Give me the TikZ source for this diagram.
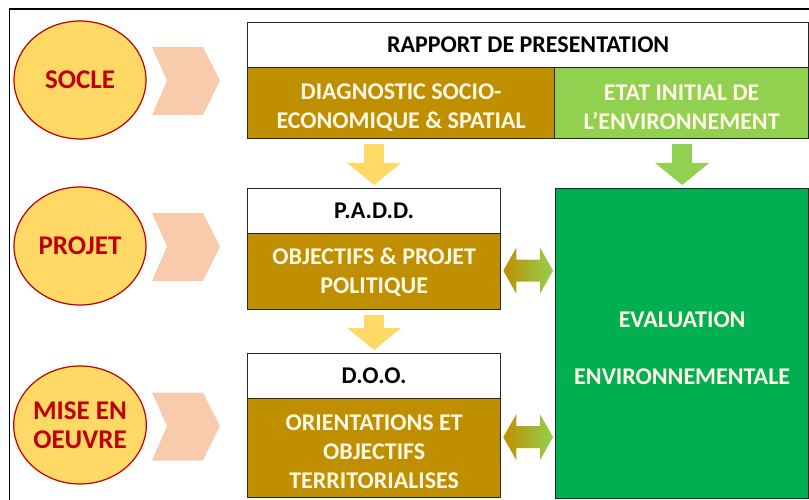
\documentclass[tikz,border=0pt]{standalone}
\usepackage{fontspec}
\setmainfont{Carlito}
\usetikzlibrary{shapes.geometric,arrows.meta,calc}
\definecolor{brn}{HTML}{BF8F00}
\definecolor{lgreen}{HTML}{92D050}
\definecolor{dgreen}{HTML}{00B050}
\definecolor{yel}{HTML}{FFD966}
\definecolor{chevc}{HTML}{F8CBAD}
\definecolor{redc}{HTML}{C00000}
\definecolor{cream}{HTML}{FFF8E6}
\definecolor{edge}{HTML}{262626}
\begin{document}
\begin{tikzpicture}[x=1pt,y=-1pt,
  boxbase/.style={draw=edge, line width=1.3pt, inner sep=0pt, anchor=north west, align=center},
  titlebox/.style={boxbase, fill=white, text=black, font=\bfseries\fontsize{24}{29}\selectfont},
  brownbox/.style={boxbase, fill=brn},
  lgbox/.style={boxbase, fill=lgreen},
  evalbox/.style={boxbase, fill=dgreen},
  boxtext/.style={text=cream, align=center, inner sep=0pt, font=\bfseries\fontsize{24}{29}\selectfont},
  phase/.style={ellipse, draw=redc, line width=1.2pt, fill=yel, text=redc, minimum width=132pt, minimum height=118pt, inner sep=0pt, align=center, font=\bfseries\fontsize{27}{29}\selectfont},
  yarr/.style={draw=yel, line width=20pt, shorten <=5pt, shorten >=3pt, -{Triangle[width=54pt,length=22pt,line width=0pt]}},
  garr/.style={yarr, draw=lgreen},
  chevron/.pic={\fill[chevc] (0,-33.5) -- (51,-33.5) -- (68,0) -- (51,34.5) -- (0,34.5) -- (15,0) -- cycle;}
]
\useasboundingbox (0,0) rectangle (809,500);
\fill[white] (0,0) rectangle (809,500);
% outer frame
\draw[line width=1.5pt, black] (9.5,500) -- (9.5,9) -- (809,9);

% phase circles
\node[phase] (socle) at (80,80) {SOCLE};
\node[phase] (projet) at (80,246) {PROJET};
\node[phase] (mise) at (80,425) {MISE EN\\OEUVRE};

% chevrons
\pic at (152,80.5) {chevron};
\pic at (152,246.5) {chevron};
\pic at (152,426) {chevron};

% boxes
\node[titlebox, minimum width=561pt, minimum height=45pt] (rapport) at (247,22) {RAPPORT DE PRESENTATION};
\node[brownbox, minimum width=307pt, minimum height=71pt] (diag) at (247,67) {};
\node[boxtext] (diagt) at ([yshift=-4pt]diag.center) {DIAGNOSTIC SOCIO-\\ECONOMIQUE \& SPATIAL};
\node[lgbox, minimum width=254pt, minimum height=71pt] (etat) at (554,67) {};
\node[boxtext] (etatt) at ([yshift=-4pt]etat.center) {ETAT INITIAL DE\\L’ENVIRONNEMENT};

\node[titlebox, minimum width=253pt, minimum height=45pt] (padd) at (247,188) {P.A.D.D.};
\node[brownbox, minimum width=253pt, minimum height=76pt] (obj) at (247,233) {};
\node[boxtext] (objt) at ([yshift=-1pt]obj.center) {OBJECTIFS \& PROJET\\POLITIQUE};

\node[titlebox, minimum width=253pt, minimum height=45pt] (doo) at (247,353) {D.O.O.};
\node[brownbox, minimum width=253pt, minimum height=99pt] (orient) at (247,398) {};
\node[boxtext] (orientt) at ([yshift=-4pt]orient.center) {ORIENTATIONS ET\\OBJECTIFS\\TERRITORIALISES};

\node[evalbox, minimum width=253pt, minimum height=310pt] (eval) at (555,188) {};
\node[boxtext] (evalt) at ([yshift=-5pt]eval.center) {EVALUATION\\[28pt]ENVIRONNEMENTALE};

% down arrows
\draw[yarr] (diag.south -| padd.north) -- (padd.north);
\draw[yarr] (obj.south) -- (doo.north);
\draw[garr] (etat.south -| eval.north) -- (eval.north);

% double arrows
\coordinate (L1) at ($(obj.east)+(2,-1)$);
\coordinate (R1) at ($(eval.west |- obj.east)+(-2,-1)$);
\coordinate (L2) at ($(orient.east)+(2,-11)$);
\coordinate (R2) at ($(eval.west |- orient.east)+(-2,-11)$);
\foreach \L/\R in {L1/R1, L2/R2}{
  \shade[left color=brn, right color=lgreen]
    (\L) -- ($(\L)+(13,-23)$) -- ($(\L)+(13,-11)$) -- ($(\R)+(-13,-11)$) -- ($(\R)+(-13,-23)$)
    -- (\R) -- ($(\R)+(-13,23)$) -- ($(\R)+(-13,11)$) -- ($(\L)+(13,11)$) -- ($(\L)+(13,23)$) -- cycle;
}
\end{tikzpicture}
\end{document}
